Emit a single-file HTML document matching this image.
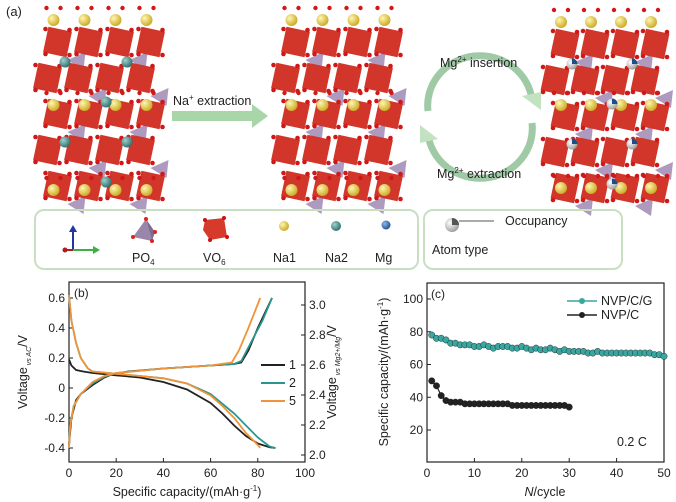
<!DOCTYPE html>
<html><head><meta charset="utf-8">
<style>
body{margin:0;background:#fff;width:676px;height:502px;overflow:hidden;font-family:"Liberation Sans",sans-serif}
svg{display:block}
text{font-family:"Liberation Sans",sans-serif;fill:#222}
</style></head>
<body>
<svg id="fig" width="676" height="502" viewBox="0 0 676 502">
<defs>
<radialGradient id="gy" cx="0.35" cy="0.35" r="0.7"><stop offset="0" stop-color="#fff6b0"/><stop offset="1" stop-color="#c9a820"/></radialGradient>
<radialGradient id="gt" cx="0.35" cy="0.35" r="0.7"><stop offset="0" stop-color="#9fd0cc"/><stop offset="1" stop-color="#2c6e6a"/></radialGradient>
<radialGradient id="gb" cx="0.35" cy="0.35" r="0.7"><stop offset="0" stop-color="#8fb7e8"/><stop offset="1" stop-color="#1c4f8a"/></radialGradient>
<radialGradient id="gw" cx="0.35" cy="0.35" r="0.7"><stop offset="0" stop-color="#ffffff"/><stop offset="1" stop-color="#9a9a9a"/></radialGradient>
</defs>
<g id="top">
<text x="6" y="16" font-size="13">(a)</text>
<g id="crystals"></g>
<rect x="172" y="111" width="80" height="10" fill="#a9d6a9"/>
<polygon points="252,104 268,116 252,128" fill="#a9d6a9"/>
<text x="173" y="105" font-size="12.5">Na<tspan font-size="8" dy="-5">+</tspan><tspan dy="5"> extraction</tspan></text>
<path d="M428,111 A42,40 0 0 1 532,100" fill="none" stroke="#9fcaa5" stroke-width="7"/>
<polygon points="522,96 541,110 541,92" fill="#c2e2c2"/>
<path d="M532,123 A42,40 0 0 1 428,134" fill="none" stroke="#9fcaa5" stroke-width="7"/>
<polygon points="438,139 420,125 420,143" fill="#c2e2c2"/>
<text x="440" y="67" font-size="12.5">Mg<tspan font-size="8" dy="-5">2+</tspan><tspan dy="5"> insertion</tspan></text>
<text x="437" y="178" font-size="12.5">Mg<tspan font-size="8" dy="-5">2+</tspan><tspan dy="5"> extraction</tspan></text>
<rect x="35" y="210" width="383" height="59" rx="9" fill="none" stroke="#c9dfc2" stroke-width="2"/>
<rect x="424" y="210" width="198" height="59" rx="9" fill="none" stroke="#c9dfc2" stroke-width="2"/>
<g>
<line x1="73" y1="250" x2="73" y2="230" stroke="#2435a0" stroke-width="2"/><polygon points="69,232 77,232 73,225" fill="#2435a0"/>
<line x1="73" y1="250" x2="95" y2="250" stroke="#3cb043" stroke-width="2"/><polygon points="93,246 93,254 100,250" fill="#3cb043"/>
<line x1="65" y1="250" x2="73" y2="250" stroke="#b01c1c" stroke-width="2"/><circle cx="65" cy="250" r="2.5" fill="#b01c1c"/>
</g>
<g><polygon points="146,219 133,237 152,241" fill="#9a86aa"/><polygon points="146,219 152,241 155,232" fill="#7e6b90"/><circle cx="146" cy="219" r="2" fill="#d22"/><circle cx="133" cy="237" r="2" fill="#d22"/><circle cx="152" cy="241" r="2" fill="#d22"/><circle cx="155" cy="232" r="2" fill="#d22"/></g>
<text x="132" y="262" font-size="12.5">PO<tspan font-size="8" dy="3">4</tspan></text>
<g><polygon points="205,220 224,218 227,237 210,240 203,230" fill="#d63a2a"/><circle cx="205" cy="220" r="2" fill="#c11"/><circle cx="224" cy="218" r="2" fill="#c11"/><circle cx="227" cy="237" r="2" fill="#c11"/><circle cx="210" cy="240" r="2" fill="#c11"/></g>
<text x="203" y="262" font-size="12.5">VO<tspan font-size="8" dy="3">6</tspan></text>
<circle cx="284" cy="226" r="5" fill="url(#gy)"/>
<text x="273" y="262" font-size="12.5">Na1</text>
<circle cx="336" cy="226" r="5" fill="url(#gt)"/>
<text x="325" y="262" font-size="12.5">Na2</text>
<circle cx="386" cy="225" r="4.5" fill="url(#gb)"/>
<text x="375" y="262" font-size="12.5">Mg</text>
<circle cx="452" cy="225" r="7" fill="url(#gw)"/>
<path d="M452,218 A7,7 0 0 1 459,225 L452,225Z" fill="#555"/>
<line x1="459" y1="221" x2="494" y2="221" stroke="#555" stroke-width="1"/>
<text x="505" y="225" font-size="12.5">Occupancy</text>
<text x="432" y="254" font-size="12.5">Atom type</text>
</g>
<g id="chartB"></g>
<g id="chartC"></g>
</svg>
<script>
// ---- Panel (b) data ----
const bCycles = ['1','2','5'];
const bColors = ['#222222','#2a9690','#f0933a'];
const bDisX1 = [0,1,3,6,10,20,30,40,50,60,65,70,75,80,85,87.5];
const bDisY1 = [0.19,0.15,0.12,0.11,0.1,0.085,0.07,0.04,-0.01,-0.1,-0.17,-0.25,-0.32,-0.37,-0.395,-0.4];
const bChgX1 = [0,1,3,5,10,15,18,25,40,60,70,73,76,80,86];
const bChgY1 = [-0.38,-0.2,-0.08,-0.04,0.02,0.07,0.09,0.11,0.13,0.15,0.16,0.17,0.25,0.4,0.6];
const bDisX2 = [0,1,3,5,8,10,20,30,40,50,60,70,80,85,87.5];
const bDisY2 = [0.62,0.45,0.3,0.2,0.13,0.11,0.095,0.08,0.065,0.03,-0.04,-0.17,-0.33,-0.39,-0.4];
const bChgX2 = [0,0.5,2,5,10,15,20,40,60,70,73,77,82,86];
const bChgY2 = [-0.4,-0.25,-0.12,-0.04,0.03,0.075,0.1,0.13,0.15,0.16,0.18,0.3,0.45,0.6];
const bDisX5 = [0,1,3,5,8,10,20,30,40,50,60,65,70,75,80,81];
const bDisY5 = [0.62,0.45,0.3,0.2,0.13,0.11,0.095,0.08,0.065,0.03,-0.05,-0.12,-0.2,-0.3,-0.38,-0.4];
const bChgX5 = [0,0.5,2,5,10,15,20,40,60,69,72,76,81];
const bChgY5 = [-0.4,-0.25,-0.12,-0.04,0.04,0.08,0.1,0.13,0.15,0.17,0.25,0.4,0.6];
const bXTicks = [0,20,40,60,80,100];
const bYTicks = [-0.4,-0.2,0,0.2,0.4,0.6];
const bYTickLabels = ['-0.4','-0.2','0','0.2','0.4','0.6'];
const bY2Ticks = [2.0,2.2,2.4,2.6,2.8,3.0];
const bY2TickLabels = ['2.0','2.2','2.4','2.6','2.8','3.0'];
// ---- Panel (c) data ----
const cSeries = ['NVP/C/G','NVP/C'];
const cCyclesG = [1,2,3,4,5,6,7,8,9,10,11,12,13,14,15,16,17,18,19,20,21,22,23,24,25,26,27,28,29,30,31,32,33,34,35,36,37,38,39,40,41,42,43,44,45,46,47,48,49,50];
const cCapG = [78,76,76,75,73,73,72,72,72,71,71,72,71,70,71,71,71,70,70,71,70,69,70,69,69,70,69,68,69,68,68,68,68,67,67,68,67,67,67,67,67,67,67,67,67,67,67,66,66,65];
const cCyclesC = [1,2,3,4,5,6,7,8,9,10,11,12,13,14,15,16,17,18,19,20,21,22,23,24,25,26,27,28,29,30];
const cCapC = [50,47,41,38,37,37,37,36,36,36,36,36,36,36,36,36,36,35,35,35,35,35,35,35,35,35,35,35,35,34];
const cXTicks = [0,10,20,30,40,50];
const cYTicks = [20,40,60,80,100];

const NS='http://www.w3.org/2000/svg';
function mk(tag,attrs,parent){const e=document.createElementNS(NS,tag);for(const k in attrs)e.setAttribute(k,attrs[k]);parent.appendChild(e);return e;}

// ---- crystals (decorative) ----
const cr=document.getElementById('crystals');
function crystal(x0,y0,w,h,type){
  const g=mk('g',{},cr);
  
  
  const cols=4, dx=w/cols;
  for(let r=0;r<5;r++){
    for(let c=0;c<cols;c++){
      const cx=x0+dx*c+dx/2+((r%2)?-6:4), cy=y0+28+r*36;
      mk('rect',{x:cx-12,y:cy-13,width:24,height:26,fill:'#d2352a',transform:`rotate(12 ${cx} ${cy})`},g);
      if((r+c)%2===0) mk('polygon',{points:`${cx+10},${cy+18} ${cx+28},${cy+10} ${cx+26},${cy+28}`,fill:'#a58fb8',opacity:0.9},g);
      [[-12,-13],[12,-12],[-12,12],[12,13]].forEach(p=>mk('circle',{cx:cx+p[0],cy:cy+p[1],r:2.3,fill:'#d01818'},g));
    }
  }
  for(let c=0;c<cols;c++){
    const bx=x0+dx*c+dx/2;
    [y0+6,y0+h/2-4,y0+h-14].forEach(by=>{mk('circle',{cx:bx,cy:by,r:6,fill:'url(#gy)'},g);
      mk('circle',{cx:bx-7,cy:by-12,r:2.2,fill:'#d01818'},g);mk('circle',{cx:bx+7,cy:by-12,r:2.2,fill:'#d01818'},g);});
  }
  if(type!=='desodiated'){
    const fill=type==='mg'?'url(#gw)':'url(#gt)';
    for(let r=0;r<4;r++)for(let c=0;c<3;c++){
      if((r+c)%2) continue;
      const bx=x0+dx*(c+1)+(r%2?6:-4), by=y0+48+r*40;
      mk('circle',{cx:bx,cy:by,r:5.5,fill},g);
      if(type==='mg') mk('path',{d:`M${bx},${by-5.5} A5.5,5.5 0 0 1 ${bx+5.5},${by} L${bx},${by}Z`,fill:'#1c4f8a'},g);
    }
  }
}
crystal(38,14,124,190,'nvp');
crystal(276,14,124,190,'desodiated');
crystal(546,16,120,186,'mg');

// ---- Panel (b) ----
const gb=document.getElementById('chartB');
const bL=69,bR=305,bT=282,bB=462;
const bx=v=>bL+(v-0)/(100-0)*(bR-bL);
const by=v=>388-(v)*150;
const by2=v=>455-(v-2.0)*150;
let f=mk('rect',{x:bL,y:bT,width:bR-bL,height:bB-bT,fill:'none',stroke:'#222','stroke-width':1.2},gb);


mk('text',{x:bL+5,y:bT+15,'font-size':12},gb).textContent='(b)';
bXTicks.forEach(v=>{mk('line',{x1:bx(v),x2:bx(v),y1:bB,y2:bB-4,stroke:'#222'},gb);
  const t=mk('text',{x:bx(v),y:bB+15,'font-size':12,'text-anchor':'middle'},gb);t.textContent=v;
  });
bYTicks.forEach((v,i)=>{mk('line',{x1:bL,x2:bL+4,y1:by(v),y2:by(v),stroke:'#222'},gb);
  const t=mk('text',{x:bL-4,y:by(v)+4,'font-size':12,'text-anchor':'end'},gb);t.textContent=bYTickLabels[i];
  });
bY2Ticks.forEach((v,i)=>{mk('line',{x1:bR,x2:bR-4,y1:by2(v),y2:by2(v),stroke:'#222'},gb);
  const t=mk('text',{x:bR+4,y:by2(v)+4,'font-size':12},gb);t.textContent=bY2TickLabels[i];
  });
let xt=mk('text',{x:187,y:496,'font-size':12.5,'text-anchor':'middle'},gb);
xt.innerHTML='Specific capacity/(mAh·g<tspan font-size="8" dy="-5">-1</tspan><tspan dy="5">)</tspan>';

let yt=mk('text',{x:0,y:0,'font-size':12.5,'text-anchor':'middle',transform:'translate(27,372) rotate(-90)'},gb);
yt.innerHTML='Voltage<tspan font-size="7" dy="4" font-style="italic"> vs AC</tspan><tspan dy="-4">/V</tspan>';

let yt2=mk('text',{x:0,y:0,'font-size':12.5,'text-anchor':'middle',transform:'translate(336,372) rotate(-90)'},gb);
yt2.innerHTML='Voltage<tspan font-size="7" dy="4" font-style="italic"> vs Mg2+/Mg</tspan><tspan dy="-4">/V</tspan>';

function pathB(xs,ys){return xs.map((x,i)=>(i?'L':'M')+bx(x).toFixed(1)+','+by(ys[i]).toFixed(1)).join(' ');}
const bData=[[bDisX1,bDisY1,bChgX1,bChgY1],[bDisX2,bDisY2,bChgX2,bChgY2],[bDisX5,bDisY5,bChgX5,bChgY5]];
bData.forEach((d,i)=>{
  let p=mk('path',{d:pathB(d[0],d[1]),fill:'none',stroke:bColors[i],'stroke-width':1.8},gb);
  
  let q=mk('path',{d:pathB(d[2],d[3]),fill:'none',stroke:bColors[i],'stroke-width':1.8},gb);
  
  const ly=365+i*18;
  let l=mk('line',{x1:261,x2:285,y1:ly,y2:ly,stroke:bColors[i],'stroke-width':2},gb);
  
  let t=mk('text',{x:289,y:ly+4,'font-size':12.5},gb);t.textContent=bCycles[i];
  
});

// ---- Panel (c) ----
const gc=document.getElementById('chartC');
const cL=427,cR=664,cT=283,cB=462;
const cx=v=>cL+v/50*(cR-cL);
const cy=v=>430-(v-20)*(131/80);
let fc=mk('rect',{x:cL,y:cT,width:cR-cL,height:cB-cT,fill:'none',stroke:'#222','stroke-width':1.2},gc);

mk('text',{x:cL+4,y:cT+15,'font-size':12},gc).textContent='(c)';
cXTicks.forEach(v=>{mk('line',{x1:cx(v),x2:cx(v),y1:cB,y2:cB-4,stroke:'#222'},gc);
  const t=mk('text',{x:cx(v),y:cB+15,'font-size':12,'text-anchor':'middle'},gc);t.textContent=v;
  });
cYTicks.forEach(v=>{mk('line',{x1:cL,x2:cL+4,y1:cy(v),y2:cy(v),stroke:'#222'},gc);
  const t=mk('text',{x:cL-4,y:cy(v)+4,'font-size':12,'text-anchor':'end'},gc);t.textContent=v;
  });
let cxt=mk('text',{x:545,y:496,'font-size':12.5,'text-anchor':'middle'},gc);
cxt.innerHTML='<tspan font-style="italic">N</tspan>/cycle';

let cyt=mk('text',{x:0,y:0,'font-size':12.5,'text-anchor':'middle',transform:'translate(388,372) rotate(-90)'},gc);
cyt.innerHTML='Specific capacity/(mAh·g<tspan font-size="8" dy="-5">-1</tspan><tspan dy="5">)</tspan>';

let note=mk('text',{x:617,y:446,'font-size':12.5},gc);note.textContent='0.2 C';

function series(xs,ys,color,name){
  let p=mk('path',{d:xs.map((x,i)=>(i?'L':'M')+cx(x).toFixed(1)+','+cy(ys[i]).toFixed(1)).join(' '),fill:'none',stroke:color,'stroke-width':1.2},gc);
  
  xs.forEach((x,i)=>{let c=mk('circle',{cx:cx(x),cy:cy(ys[i]),r:3.2,fill:color,stroke:'#111','stroke-width':0.4},gc);
    });
}
series(cCyclesG,cCapG,'#3aa6a0','nvp-c-g');
series(cCyclesC,cCapC,'#222222','nvp-c');
[['#3aa6a0',301],['#222222',315]].forEach((s,i)=>{
  let l=mk('line',{x1:567,x2:597,y1:s[1],y2:s[1],stroke:s[0],'stroke-width':1.5},gc);
  
  mk('circle',{cx:582,cy:s[1],r:3,fill:s[0]},gc);
  let t=mk('text',{x:601,y:s[1]+4,'font-size':12.5},gc);t.textContent=cSeries[i];
  
});
</script>
</body></html>
